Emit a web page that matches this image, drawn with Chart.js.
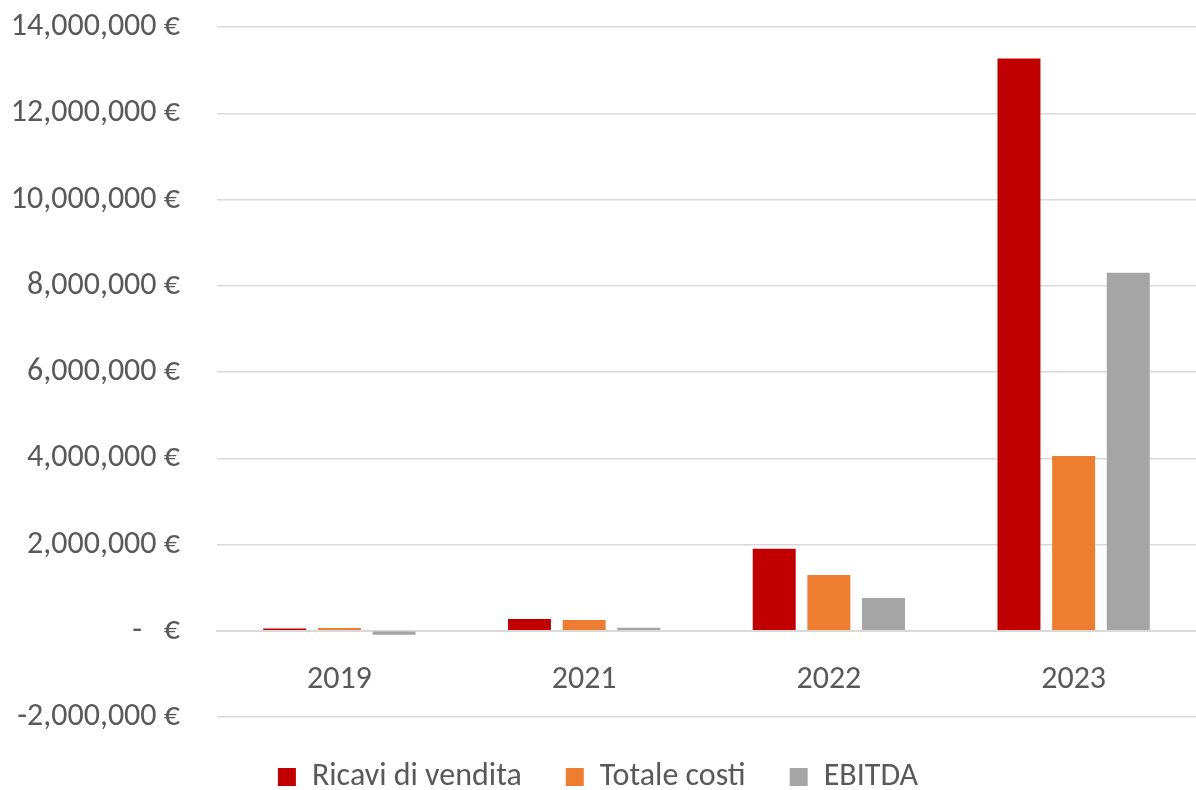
<!DOCTYPE html>
<html lang="it">
<head>
    <meta charset="UTF-8">
    <title>Ricavi, costi e EBITDA</title>
    <script src="https://cdnjs.cloudflare.com/ajax/libs/Chart.js/4.4.0/chart.umd.js"></script>
    <style>
        body { margin: 0; background: #fff; }
        #wrap { width: 1196px; height: 790px; }
    </style>
</head>
<body>
    <div id="wrap">
        <canvas id="chartEbitda"></canvas>
    </div>
    <script>
        const anni = ['2019', '2021', '2022', '2023'];
        const ricavi = [50000, 275000, 1900000, 13270000];
        const costi = [65000, 250000, 1290000, 4050000];
        const ebitda = [-90000, 70000, 760000, 8300000];

        const fontFamily = "Carlito, Calibri, 'Liberation Sans', Arial, sans-serif";
        const grigio = '#595959';

        function formatEuro(v) {
            if (v === 0) return '-   €';
            return v.toLocaleString('en-US') + ' €';
        }

        new Chart(document.getElementById('chartEbitda'), {
            type: 'bar',
            data: {
                labels: anni,
                datasets: [
                    { label: 'Ricavi di vendita', data: ricavi, backgroundColor: '#c00000' },
                    { label: 'Totale costi', data: costi, backgroundColor: '#ed7d31' },
                    { label: 'EBITDA', data: ebitda, backgroundColor: '#a5a5a5' },
                ]
            },
            options: {
                responsive: true,
                maintainAspectRatio: false,
                animation: false,
                categoryPercentage: 0.67,
                barPercentage: 0.786,
                layout: { padding: { top: 27, right: 0, left: 0, bottom: -13 } },
                plugins: {
                    tooltip: { enabled: false },
                    legend: {
                        position: 'bottom',
                        labels: {
                            color: grigio,
                            font: { family: fontFamily, size: 32 },
                            boxWidth: 18,
                            boxHeight: 18,
                            padding: 44,
                        }
                    }
                },
                scales: {
                    x: {
                        position: { y: 0 },
                        grid: { display: false },
                        border: { color: '#d9d9d9', width: 2 },
                        ticks: { color: grigio, font: { family: fontFamily, size: 32 }, padding: 22 },
                    },
                    y: {
                        min: -2000000,
                        max: 14000000,
                        border: { display: false },
                        grid: { color: '#d9d9d9', lineWidth: 1.5, drawTicks: false },
                        ticks: {
                            stepSize: 2000000,
                            color: grigio,
                            padding: 37,
                            font: { family: fontFamily, size: 32 },
                            callback: v => formatEuro(v),
                        },
                        afterFit: scale => {
                            // the axis sits at x=217 in the original, labels end at 180
                            scale.width = 217;
                            scale.paddingTop = 0;
                            scale.paddingBottom = 0;
                        }
                    }
                }
            }
        });
    </script>
</body>
</html>
